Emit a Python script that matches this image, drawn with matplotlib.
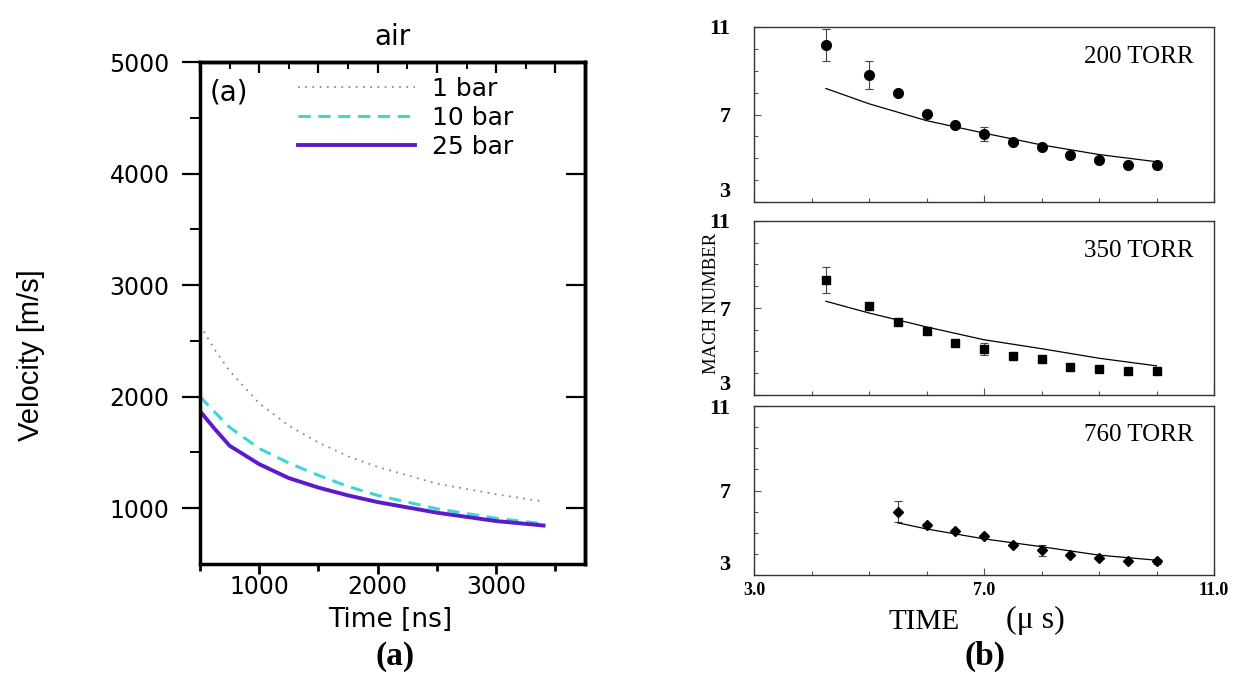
import numpy as np
import matplotlib
matplotlib.use("Agg")
import matplotlib.pyplot as plt

# ---- panel (a): velocity vs time, air ----
t_ns = [500, 625, 750, 1000, 1250, 1500, 1750, 2000, 2500, 3000, 3400]
v_1bar = [2640, 2420, 2230, 1940, 1740, 1590, 1465, 1370, 1220, 1125, 1060]
v_10bar = [2000, 1860, 1725, 1535, 1405, 1295, 1195, 1115, 995, 910, 860]
v_25bar = [1870, 1710, 1560, 1395, 1270, 1185, 1115, 1055, 960, 885, 845]

# ---- panel (b): mach number vs time ----
t_us = [4.25, 5.0, 5.5, 6.0, 6.5, 7.0, 7.5, 8.0, 8.5, 9.0, 9.5, 10.0]
m_200 = [10.18, 8.80, 8.0, 7.03, 6.53, 6.12, 5.74, 5.53, 5.16, 4.93, 4.67, 4.67]
e_200 = [0.75, 0.65, 0, 0, 0, 0.31, 0, 0, 0, 0, 0, 0.15]
m_350 = [8.28, 7.10, 6.36, 5.92, 5.41, 5.10, 4.80, 4.64, 4.30, 4.20, 4.11, 4.11]
e_350 = [0.6, 0, 0, 0, 0, 0.27, 0, 0, 0, 0, 0.15, 0.15]
t_us_760 = [5.5, 6.0, 6.5, 7.0, 7.5, 8.0, 8.5, 9.0, 9.5, 10.0]
m_760 = [6.0, 5.38, 5.08, 4.83, 4.43, 4.17, 3.94, 3.82, 3.65, 3.65]
e_760 = [0.5, 0, 0, 0, 0, 0.25, 0, 0, 0, 0.12]

fit_t = [4.25, 5.0, 6.0, 7.0, 8.0, 9.0, 10.0]
fit_200 = [8.19, 7.49, 6.72, 6.15, 5.61, 5.17, 4.84]
fit_350 = [7.31, 6.77, 6.13, 5.54, 5.13, 4.69, 4.34]
fit_t_760 = [5.5, 6.0, 7.0, 8.0, 9.0, 10.0]
fit_760 = [5.47, 5.18, 4.71, 4.34, 3.94, 3.70]

fig = plt.figure(figsize=(12.36, 6.75), dpi=100)
W, H = 1236., 675.

def box(x0, y0, x1, y1):
    return [x0 / W, 1 - y1 / H, (x1 - x0) / W, (y1 - y0) / H]

sans = "DejaVu Sans"
serif = "Liberation Serif"

ax = fig.add_axes(box(200, 62, 585, 564))
ax.plot(t_ns, v_1bar, color="#8c8c8c", ls=(0, (1, 3)), lw=1.3, label="1 bar")
ax.plot(t_ns, v_10bar, color="#3fd6d6", ls=(0, (4, 2.5)), lw=2.2, label="10 bar")
ax.plot(t_ns, v_25bar, color="#5a1ccb", lw=2.8, label="25 bar")
ax.set_xlim(500, 3750)
ax.set_ylim(500, 5000)
ax.set_xticks([1000, 2000, 3000])
ax.set_xticks([500, 1500, 2500, 3500], minor=True)
ax.set_yticks([1000, 2000, 3000, 4000, 5000])
ax.set_yticks([1500, 2500, 3500, 4500], minor=True)
ax.tick_params(axis="y", which="major", direction="out", length=13, width=1.6,
               labelsize=17, right=False, pad=9, labelfontfamily=sans)
ax.tick_params(axis="y", which="minor", direction="out", length=7, width=1.4, right=False)
ax.tick_params(axis="x", which="major", direction="out", length=7, width=2, labelsize=17,
               top=False, pad=1, labelfontfamily=sans)
ax.tick_params(axis="x", which="minor", direction="out", length=5, width=2, top=False)
for s in ax.spines.values():
    s.set_linewidth(2.5)

sy = ax.secondary_yaxis("right")
sy.set_yticks([1000, 2000, 3000, 4000])
sy.tick_params(direction="in", length=14, width=1.6, labelright=False)
sy.spines["right"].set_linewidth(2.5)
sx = ax.secondary_xaxis("top")
sx.set_xticks([500, 1000, 1500, 2000, 2500, 3000, 3500])
sx.set_xticks([750, 1250, 1750, 2250, 2750, 3250], minor=True)
sx.tick_params(which="major", direction="in", length=8, width=1.6, labeltop=False)
sx.tick_params(which="minor", direction="in", length=5, width=1.4)
sx.spines["top"].set_linewidth(2.5)

leg = ax.legend(loc="upper left", bbox_to_anchor=(0.2545, 0.97), frameon=False,
                prop={"family": sans, "size": 18}, handlelength=4.7,
                handletextpad=0.68, labelspacing=0.2, borderaxespad=0, borderpad=0)
ax.text(0.025, 0.94, "(a)", transform=ax.transAxes, family=sans, fontsize=20,
        ha="left", va="center")
ax.text(0.5, 1.05, "air", transform=ax.transAxes, family=sans, fontsize=20,
        ha="center", va="center")
fig.text(390 / W, 1 - 620 / H, "Time [ns]", family=sans, fontsize=19,
         ha="center", va="center")
fig.text(31 / W, 1 - 355 / H, "Velocity [m/s]", family="Liberation Sans", fontsize=21,
         rotation=90, ha="center", va="center")
fig.text(395 / W, 1 - 656 / H, "(a)", family=serif, fontsize=24, fontweight="bold",
         ha="center", va="center")

# right side: three stacked panels
panels = [
    (box(754, 27, 1214, 202), t_us, m_200, e_200, "o", 7, fit_t, fit_200, "200 TORR"),
    (box(754, 221, 1214, 395), t_us, m_350, e_350, "s", 5.5, fit_t, fit_350, "350 TORR"),
    (box(754, 406, 1214, 575), t_us_760, m_760, e_760, "D", 5, fit_t_760, fit_760, "760 TORR"),
]
for i, (rect, tx, my, ey, mk, ms, ft, fy, lab) in enumerate(panels):
    a = fig.add_axes(rect)
    ey = np.array(ey, dtype=float)
    has = ey > 0
    a.errorbar(np.array(tx)[has], np.array(my)[has], yerr=ey[has], fmt="none",
               ecolor="#444444", elinewidth=0.8, capsize=3, capthick=0.8)
    a.plot(tx, my, ls="none", marker=mk, ms=ms, color="black")
    a.plot(ft, fy, color="black", lw=0.9)
    a.set_xlim(3, 11)
    a.set_ylim(3, 11)
    a.set_yticks([3, 7, 11], ["3", "7", "11"])
    a.set_yticks([4, 5, 6, 8, 9, 10], minor=True)
    a.set_xticks([3, 7, 11], ["3.0", "7.0", "11.0"])
    a.set_xticks([4, 5, 6, 8, 9, 10], minor=True)
    a.tick_params(which="both", direction="in", color="#555555", top=False, right=False)
    a.tick_params(which="major", length=5, width=0.8)
    a.tick_params(which="minor", length=3, width=0.8)
    a.tick_params(axis="y", pad=17, labelsize=16, labelfontfamily=serif)
    a.tick_params(axis="x", pad=5, labelsize=13, labelfontfamily=serif,
                  labelbottom=(i == 2))
    for s in a.spines.values():
        s.set_linewidth(1.0)
        s.set_color("#333333")
    for t in a.get_yticklabels() + a.get_xticklabels():
        t.set_fontweight("bold")
    a.get_yticklabels()[0].set_verticalalignment("bottom")
    a.text(0.955, 0.83, lab, transform=a.transAxes, family=serif, fontsize=18,
           ha="right", va="center")

fig.text(711 / W, 1 - 303 / H, "MACH NUMBER", family=serif, fontsize=13.5,
         rotation=90, ha="center", va="center")
fig.text(924 / W, 1 - 622 / H, "TIME", family=serif, fontsize=21,
         ha="center", va="center")
fig.text(1035 / W, 1 - 620 / H, "(\u03bc s)", family=serif, fontsize=23,
         ha="center", va="center")
fig.text(985 / W, 1 - 656 / H, "(b)", family=serif, fontsize=24, fontweight="bold",
         ha="center", va="center")

fig.savefig("out.png", dpi=100)
